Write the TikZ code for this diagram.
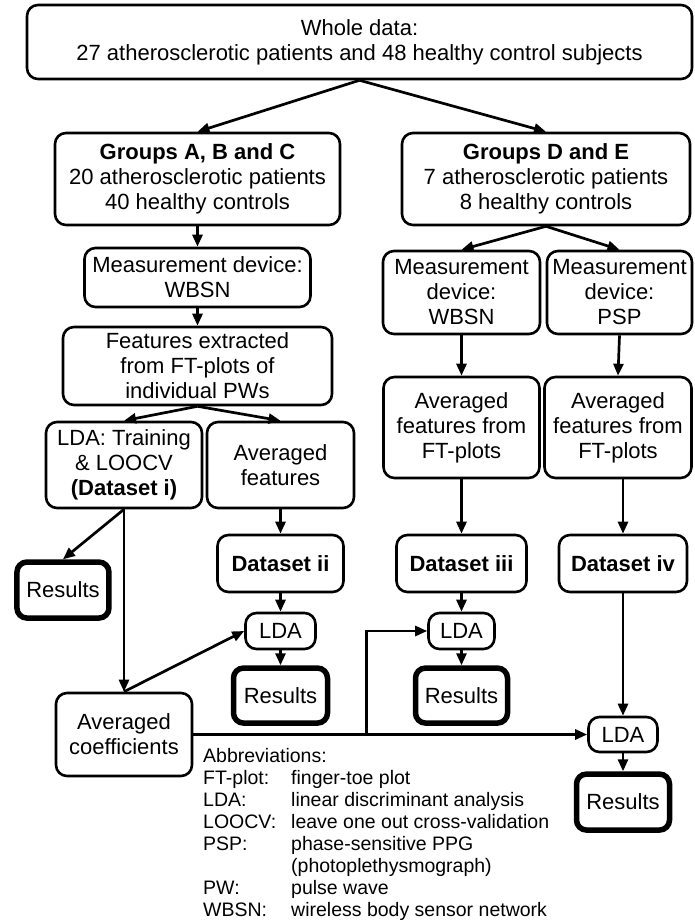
\documentclass[tikz,border=0pt]{standalone}
\usepackage{fontspec}
\setmainfont{Liberation Sans}
\usetikzlibrary{positioning,arrows.meta}

\begin{document}
\begin{tikzpicture}[
  x=1pt,y=-1pt,
  font=\fontsize{22}{25}\selectfont,
  box/.style={draw,line width=2.6pt,rounded corners=11pt,align=center,inner sep=1pt},
  result/.style={box,line width=5.5pt,rounded corners=10pt},
  flow/.style={-{Triangle[length=12pt,width=10pt]},line width=2.7pt}
]
\useasboundingbox (0,0) rectangle (694,923);

\node[box,minimum width=665pt,minimum height=74pt] (whole) at (359.5,42)
  {Whole data:\\27 atherosclerotic patients and 48 healthy control subjects};
\node[box,minimum width=285pt,minimum height=92pt] (grpabc) at (197.5,179)
  {\textbf{Groups A, B and C}\\20 atherosclerotic patients\\40 healthy controls};
\node[box,minimum width=288pt,minimum height=92pt] (grpde) at (546,179)
  {\textbf{Groups D and E}\\7 atherosclerotic patients\\8 healthy controls};

% left branch
\node[box,minimum width=226pt,minimum height=59pt,below=20.4pt of grpabc] (measl)
  {Measurement device:\\WBSN};
\node[box,minimum width=269pt,minimum height=78pt,below=17.4pt of measl] (feat)
  {Features extracted\\from FT-plots of\\individual PWs};
\node[box,minimum width=156pt,minimum height=86pt,below=14.4pt of feat.south west,
      anchor=north west,xshift=-17pt] (ldatr)
  {LDA: Training\\\& LOOCV\\\textbf{(Dataset i)}};
\node[box,minimum width=147pt,minimum height=86pt,right=2.4pt of ldatr] (avgf)
  {Averaged\\features};
\node[result,minimum width=92pt,minimum height=56pt,below=50pt of ldatr.south west,
      anchor=north west,xshift=-30.5pt] (resi) {Results};
\node[box,minimum width=136pt,minimum height=83pt,below=182.4pt of ldatr] (avgcoef)
  {Averaged\\coefficients};
\node[box,minimum width=126pt,minimum height=57pt,below=24.4pt of avgf] (dsii)
  {\textbf{Dataset ii}};
\node[box,minimum width=70pt,minimum height=36pt,below=18.4pt of dsii] (ldaii) {LDA};
\node[result,minimum width=94pt,minimum height=55pt,below=15pt of ldaii] (resii) {Results};

% right branch
\node[box,minimum width=157pt,minimum height=83pt,below=23.4pt of grpde.south west,
      anchor=north west,xshift=-19pt] (measw)
  {Measurement\\device:\\WBSN};
\node[box,minimum width=145pt,minimum height=83pt,right=4.4pt of measw] (measp)
  {Measurement\\device:\\PSP};
\node[box,minimum width=156pt,minimum height=101pt,below=40.4pt of measw] (avgw)
  {Averaged\\features from\\FT-plots};
\node[box,minimum width=147pt,minimum height=101pt,right=2.4pt of avgw] (avgp)
  {Averaged\\features from\\FT-plots};
\node[box,minimum width=130pt,minimum height=57pt,below=54.4pt of avgw] (dsiii)
  {\textbf{Dataset iii}};
\node[box,minimum width=66pt,minimum height=36pt,below=18.4pt of dsiii] (ldaiii) {LDA};
\node[result,minimum width=92pt,minimum height=55pt,below=15pt of ldaiii] (resiii) {Results};
\node[box,minimum width=128pt,minimum height=57pt,below=54.4pt of avgp,xshift=5pt] (dsiv)
  {\textbf{Dataset iv}};
\node[box,minimum width=69pt,minimum height=35pt,below=122.4pt of dsiv] (ldaiv) {LDA};
\node[result,minimum width=93pt,minimum height=56pt,below=18pt of ldaiv] (resiv) {Results};

\coordinate (fork) at ([xshift=173pt]avgcoef.east);

\node[anchor=north west,inner sep=0pt,font=\fontsize{19.5}{22}\selectfont] (abbr) at (203,747) {%
  \begin{tabular}{@{}p{88pt}@{}l@{}}
  \multicolumn{2}{@{}l@{}}{Abbreviations:}\\
  FT-plot: & finger-toe plot\\
  LDA: & linear discriminant analysis\\
  LOOCV: & leave one out cross-validation\\
  PSP: & phase-sensitive PPG\\
   & (photoplethysmograph)\\
  PW: & pulse wave\\
  WBSN: & wireless body sensor network
  \end{tabular}};

\draw[flow] (whole.south)--(grpabc.north);
\draw[flow] (whole.south)--(grpde.north);
\draw[flow] (grpabc.south)--(measl.north);
\draw[flow] (measl.south)--(feat.north);
\draw[flow] (feat.south)--(ldatr.north);
\draw[flow] (feat.south)--(avgf.north);
\draw[flow] (ldatr.south)--(resi.north);
\draw[flow] (ldatr.south)--(avgcoef.north);
\draw[flow] (avgcoef.north)--(ldaii.west);
\draw[flow] (avgf.south)--(dsii.north);
\draw[flow] (dsii.south)--(ldaii.north);
\draw[flow] (ldaii.south)--(resii.north);
\draw[flow] (grpde.south)--(measw.north);
\draw[flow] (grpde.south)--(measp.north);
\draw[flow] (measw.south)--(avgw.north);
\draw[flow] (measp.south)--(avgp.north);
\draw[flow] (avgw.south)--(dsiii.north);
\draw[flow] (dsiv.north |- avgp.south)--(dsiv.north);
\draw[flow] (dsiii.south)--(ldaiii.north);
\draw[flow] (ldaiii.south)--(resiii.north);
\draw[flow] (dsiv.south)--(ldaiv.north);
\draw[flow] (ldaiv.south)--(resiv.north);
\draw[flow] (avgcoef.east)--(ldaiv.west);
\draw[flow] (fork)|-(ldaiii.west);
\end{tikzpicture}
\end{document}
